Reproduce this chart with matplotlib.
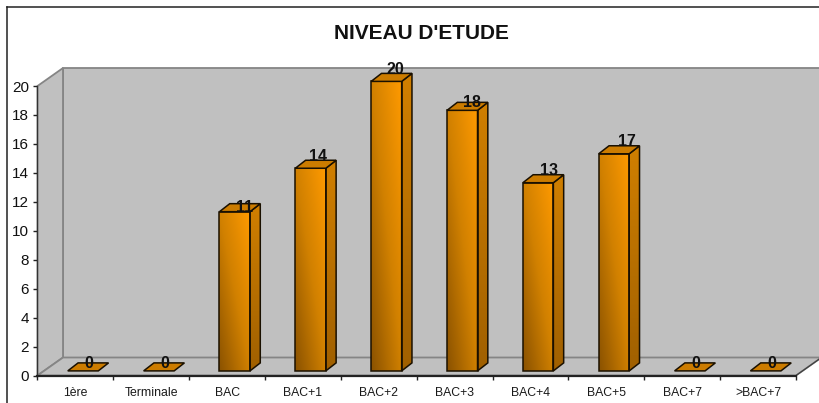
import numpy as np
import matplotlib
matplotlib.use("Agg")
import matplotlib.pyplot as plt
from matplotlib.colors import LinearSegmentedColormap
from matplotlib.lines import Line2D
from matplotlib.patches import Polygon

plt.rcParams['font.family'] = ['Liberation Sans', 'DejaVu Sans']

title = "NIVEAU D'ETUDE"
categories = ['1ère', 'Terminale', 'BAC', 'BAC+1', 'BAC+2', 'BAC+3', 'BAC+4', 'BAC+5', 'BAC+7', '>BAC+7']
bar_heights = [0, 0, 11, 14, 20, 18, 13, 15, 0, 0]   # height drawn in the picture
bar_labels = [0, 0, 11, 14, 20, 18, 13, 17, 0, 0]    # number printed on the picture
y_ticks = list(range(0, 21, 2))

W, H = 820, 403
AX_L, AX_R, AX_B, AX_T = 37.5, 796.0, 375.5, 86.0   # pixels from top-left
fig = plt.figure(figsize=(W / 100, H / 100), dpi=100, facecolor='white')
ax = fig.add_axes([AX_L / W, 1 - AX_B / H, (AX_R - AX_L) / W, (AX_B - AX_T) / H], facecolor='none')

px_x = 10 / (AX_R - AX_L)   # data units per pixel
px_y = 20 / (AX_B - AX_T)
wall_dx, wall_dy = 25.5 * px_x, 18 * px_y
bar_w = 30.5 * px_x
bar_off_x, bar_off_y = 7.6 * px_x, 4.6 * px_y
bar_dx, bar_dy = 10.3 * px_x, 8.0 * px_y

GREY, EDGE = '#c0c0c0', '#858585'
n = len(categories)
ymax = y_ticks[-1]
# walls and floor
ax.add_patch(Polygon([(wall_dx, wall_dy), (n + wall_dx, wall_dy), (n + wall_dx, ymax + wall_dy), (wall_dx, ymax + wall_dy)],
                     fc=GREY, ec=EDGE, lw=1.3, clip_on=False, zorder=1))
ax.add_patch(Polygon([(0, 0), (wall_dx, wall_dy), (wall_dx, ymax + wall_dy), (0, ymax)],
                     fc=GREY, ec=EDGE, lw=1.3, clip_on=False, zorder=1))
ax.add_patch(Polygon([(0, 0), (n, 0), (n + wall_dx, wall_dy), (wall_dx, wall_dy)],
                     fc=GREY, ec=EDGE, lw=1.3, clip_on=False, zorder=1))
ax.add_line(Line2D([n, n + wall_dx], [0, wall_dy], color='#404040', lw=0.9, clip_on=False, zorder=1.5))

front_cmap = LinearSegmentedColormap.from_list('front', ['#8a5200', '#d08000', '#ff9a00'])
side_cmap = LinearSegmentedColormap.from_list('side', ['#a06000', '#d07f00'])
top_color = '#cc7c00'

u, v = np.meshgrid(np.linspace(0, 1, 64), np.linspace(0, 1, 64))
front_grad = (u + v) / 2
side_grad = v

for i, h in enumerate(bar_heights):
    x0 = i + 0.5 - bar_w / 2 + bar_off_x
    x1 = x0 + bar_w
    y0 = bar_off_y
    y1 = y0 + h
    if h > 0:
        front = Polygon([(x0, y0), (x1, y0), (x1, y1), (x0, y1)], fc='none', ec='#1a1000', lw=1.1, clip_on=False, zorder=4)
        side = Polygon([(x1, y0), (x1 + bar_dx, y0 + bar_dy), (x1 + bar_dx, y1 + bar_dy), (x1, y1)],
                       fc='none', ec='#1a1000', lw=1.1, clip_on=False, zorder=4)
        ax.add_patch(front)
        ax.add_patch(side)
        im = ax.imshow(front_grad, cmap=front_cmap, vmin=0, vmax=1, origin='lower', aspect='auto',
                       extent=(x0, x1, y0, y1), zorder=3, interpolation='bilinear')
        im.set_clip_box(fig.bbox)
        im.set_clip_path(front)
        im2 = ax.imshow(side_grad, cmap=side_cmap, vmin=0, vmax=1, origin='lower', aspect='auto',
                        extent=(x1, x1 + bar_dx, y0, y1 + bar_dy), zorder=3, interpolation='bilinear')
        im2.set_clip_box(fig.bbox)
        im2.set_clip_path(side)
    ax.add_patch(Polygon([(x0, y1), (x1, y1), (x1 + bar_dx, y1 + bar_dy), (x0 + bar_dx, y1 + bar_dy)],
                         fc=top_color, ec='#1a1000', lw=1.1, clip_on=False, zorder=4))

# number labels, nudged in pixels from the front-top centre of each bar
label_nudge = [(6, 9), (6, 9), (10, 6), (7, 13), (9, 13), (10, 9), (11, 14), (13, 14), (6, 9), (6, 9)]
for i, (h, lab) in enumerate(zip(bar_heights, bar_labels)):
    ax.annotate(str(lab), xy=(i + 0.5 + bar_off_x, bar_off_y + h), xytext=label_nudge[i],
                textcoords='offset pixels', ha='center', va='center_baseline',
                fontsize=11.5, fontweight='bold', color='#111111', zorder=6, annotation_clip=False)

ax.set_xlim(0, n)
ax.set_ylim(0, ymax)
ax.set_yticks(y_ticks)
ax.set_xticks(np.arange(n + 1))
ax.set_xticklabels([])
ax.set_xticks(np.arange(n) + 0.5, minor=True)
ax.set_xticklabels(categories, minor=True, fontsize=8.8, color='#1a1a1a')
ax.tick_params(axis='x', which='major', length=3, width=1, color='#222222')
ax.tick_params(axis='x', which='minor', length=0, pad=8)
ax.tick_params(axis='y', length=3, width=1, color='#222222', labelsize=11, pad=3, labelcolor='#111111')
for s in ('top', 'right'):
    ax.spines[s].set_visible(False)
ax.spines['bottom'].set_linewidth(1.6)
ax.spines['bottom'].set_color('#222222')
ax.spines['left'].set_linewidth(0.9)
ax.spines['left'].set_color('#333333')
ax.spines['bottom'].set_zorder(5)

fig.text(421.5 / W, 1 - 33.5 / H, title, ha='center', va='center', fontsize=15, fontweight='bold', color='#111111')

# outer chart-area frame, running off the image on the right and bottom
fig.add_artist(Line2D([7.3 / W, 7.3 / W], [0, 1 - 7 / H], color='#222222', lw=1.1))
fig.add_artist(Line2D([7.3 / W, 1], [1 - 7 / H, 1 - 7 / H], color='#222222', lw=1.1))

fig.savefig('out.png', dpi=100)
